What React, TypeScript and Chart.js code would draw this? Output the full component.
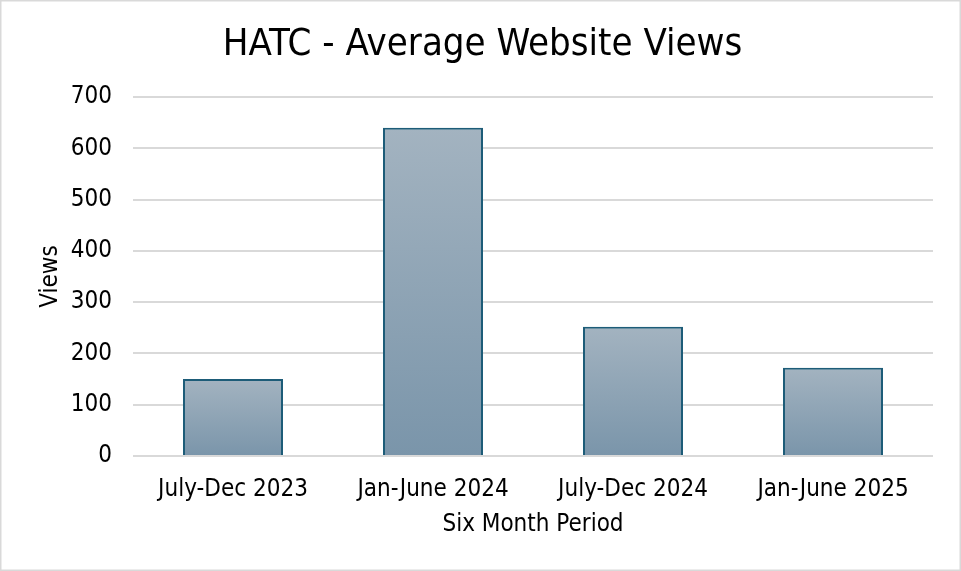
import React, { useEffect, useRef } from "react";
import { Chart, registerables } from "chart.js";

Chart.register(...registerables);

const categories = ["July-Dec 2023", "Jan-June 2024", "July-Dec 2024", "Jan-June 2025"];
const views = [150, 640, 252, 172];
const yTicks = [0, 100, 200, 300, 400, 500, 600, 700];
const chartTitle = "HATC - Average Website Views";
const xTitle = "Six Month Period";
const yTitle = "Views";

const FONT = "'DejaVu Sans Condensed', 'DejaVu Sans', sans-serif";

const framePlugin = {
  id: "frameAndTitle",
  beforeDraw(chart: any) {
    const { ctx, width, height } = chart;
    ctx.save();
    ctx.fillStyle = "#ffffff";
    ctx.fillRect(0, 0, width, height);
    ctx.restore();
  },
  afterDraw(chart: any) {
    const { ctx, width, height } = chart;
    ctx.save();
    ctx.strokeStyle = "#d9d9d9";
    ctx.lineWidth = 1.5;
    ctx.strokeRect(0.75, 0.75, width - 1.5, height - 1.5);
    ctx.fillStyle = "#000000";
    ctx.font = "38px " + FONT;
    ctx.textAlign = "center";
    ctx.textBaseline = "middle";
    ctx.fillText(chartTitle, width / 2 + 2, 45);
    ctx.restore();
  },
};

export default function App() {
  const ref = useRef<HTMLCanvasElement | null>(null);

  useEffect(() => {
    document.body.style.margin = "0";
    const canvas = ref.current;
    if (!canvas) return;
    const chart = new Chart(canvas, {
      type: "bar",
      data: {
        labels: categories,
        datasets: [
          {
            data: views,
            backgroundColor: (c: any) => {
              const ch = c.chart;
              const y = ch.scales && ch.scales.y;
              if (!ch.chartArea || !y || c.parsed == null) return "#8ea3b5";
              const top = y.getPixelForValue(c.parsed.y);
              const base = y.getPixelForValue(0);
              const g = ch.ctx.createLinearGradient(0, top, 0, base);
              g.addColorStop(0, "#a3b3c0");
              g.addColorStop(1, "#7a95aa");
              return g;
            },
            borderColor: "#1d5c78",
            borderWidth: 2,
            borderSkipped: "bottom",
            barPercentage: 0.5,
            categoryPercentage: 1,
          },
        ],
      },
      options: {
        animation: false,
        responsive: false,
        devicePixelRatio: 1,
        layout: { padding: { left: 0, right: 28, top: 97, bottom: 0 } },
        plugins: {
          legend: { display: false },
          tooltip: { enabled: false },
          title: { display: false },
        },
        scales: {
          x: {
            grid: { display: false, drawTicks: false },
            border: { display: false },
            ticks: {
              color: "#000000",
              font: { family: FONT, size: 24 },
              padding: 19,
              maxRotation: 0,
            },
            title: {
              display: true,
              text: xTitle,
              color: "#000000",
              font: { family: FONT, size: 24 },
              padding: { top: 0, bottom: 32 },
            },
            afterFit: (s: any) => {
              s.height = 115;
            },
          },
          y: {
            min: 0,
            max: 700,
            afterBuildTicks: (s: any) => {
              s.ticks = yTicks.map((v) => ({ value: v }));
            },
            grid: { color: "#d9d9d9", lineWidth: 2, drawTicks: false },
            border: { display: false },
            ticks: {
              color: "#000000",
              font: { family: FONT, size: 24 },
              padding: 21,
            },
            title: {
              display: true,
              text: yTitle,
              color: "#000000",
              font: { family: FONT, size: 24 },
              padding: { top: 36, bottom: 0 },
            },
            afterFit: (s: any) => {
              s.width = 133;
            },
          },
        },
      },
      plugins: [framePlugin],
    } as any);
    return () => chart.destroy();
  }, []);

  return <canvas ref={ref} width={961} height={571} style={{ display: "block" }} />;
}
